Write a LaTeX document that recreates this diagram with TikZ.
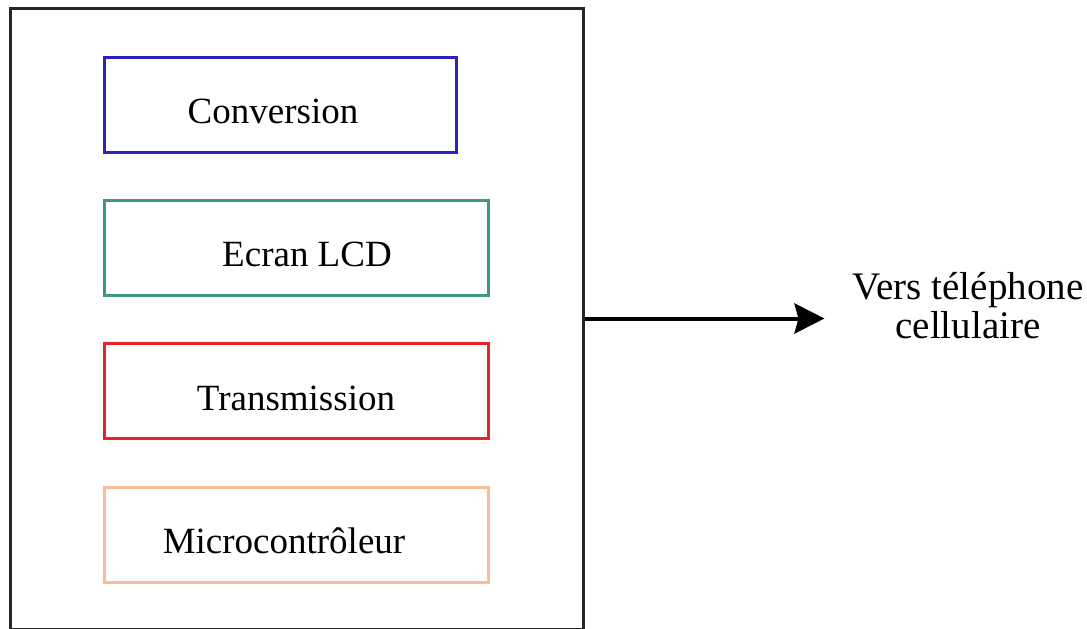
\documentclass[tikz,border=0pt]{standalone}
\usepackage{fontspec}
\setmainfont{Liberation Serif}
\usepackage{xcolor}
\usetikzlibrary{arrows.meta,positioning}
\definecolor{convblue}{HTML}{2A22C4}
\definecolor{lcdgreen}{HTML}{3E9A74}
\definecolor{transred}{HTML}{E52329}
\definecolor{mcuorange}{HTML}{F8BE9C}

\begin{document}
\begin{tikzpicture}[x=1pt, y=-1pt,
  block/.style={draw, line width=3pt, minimum height=95pt, inner sep=0pt, text height=38pt, text depth=0pt, font=\fontsize{37}{40}\selectfont},
  arrow/.style={-{Stealth[length=30pt, width=30pt, inset=4pt]}, line width=4pt, draw=black}
]
\useasboundingbox (0,0) rectangle (1087,629);
\node[draw=black!85, line width=3pt, minimum width=573pt, minimum height=621pt, inner sep=0pt] (module) at (296.5,318.5) {};
\node[block, draw=convblue, minimum width=352pt] (conv) at (280,104.5) {Conversion\hspace*{14pt}};
\node[block, draw=lcdgreen, minimum width=384pt] (lcd) at (296,247.5) {\hspace*{22pt}Ecran LCD};
\node[block, draw=transred, minimum width=384pt] (trans) at (296,391) {Transmission};
\node[block, draw=mcuorange, minimum width=384pt] (mcu) at (296,534.5) {Microcontrôleur\hspace*{24pt}};
\node[align=center, inner sep=0pt, font=\fontsize{39}{39}\selectfont] (dest) at (968,306) {Vers téléphone\\cellulaire};
\draw[arrow, shorten >=28pt] (module.east) -- (module.east -| dest.west);
\end{tikzpicture}
\end{document}
